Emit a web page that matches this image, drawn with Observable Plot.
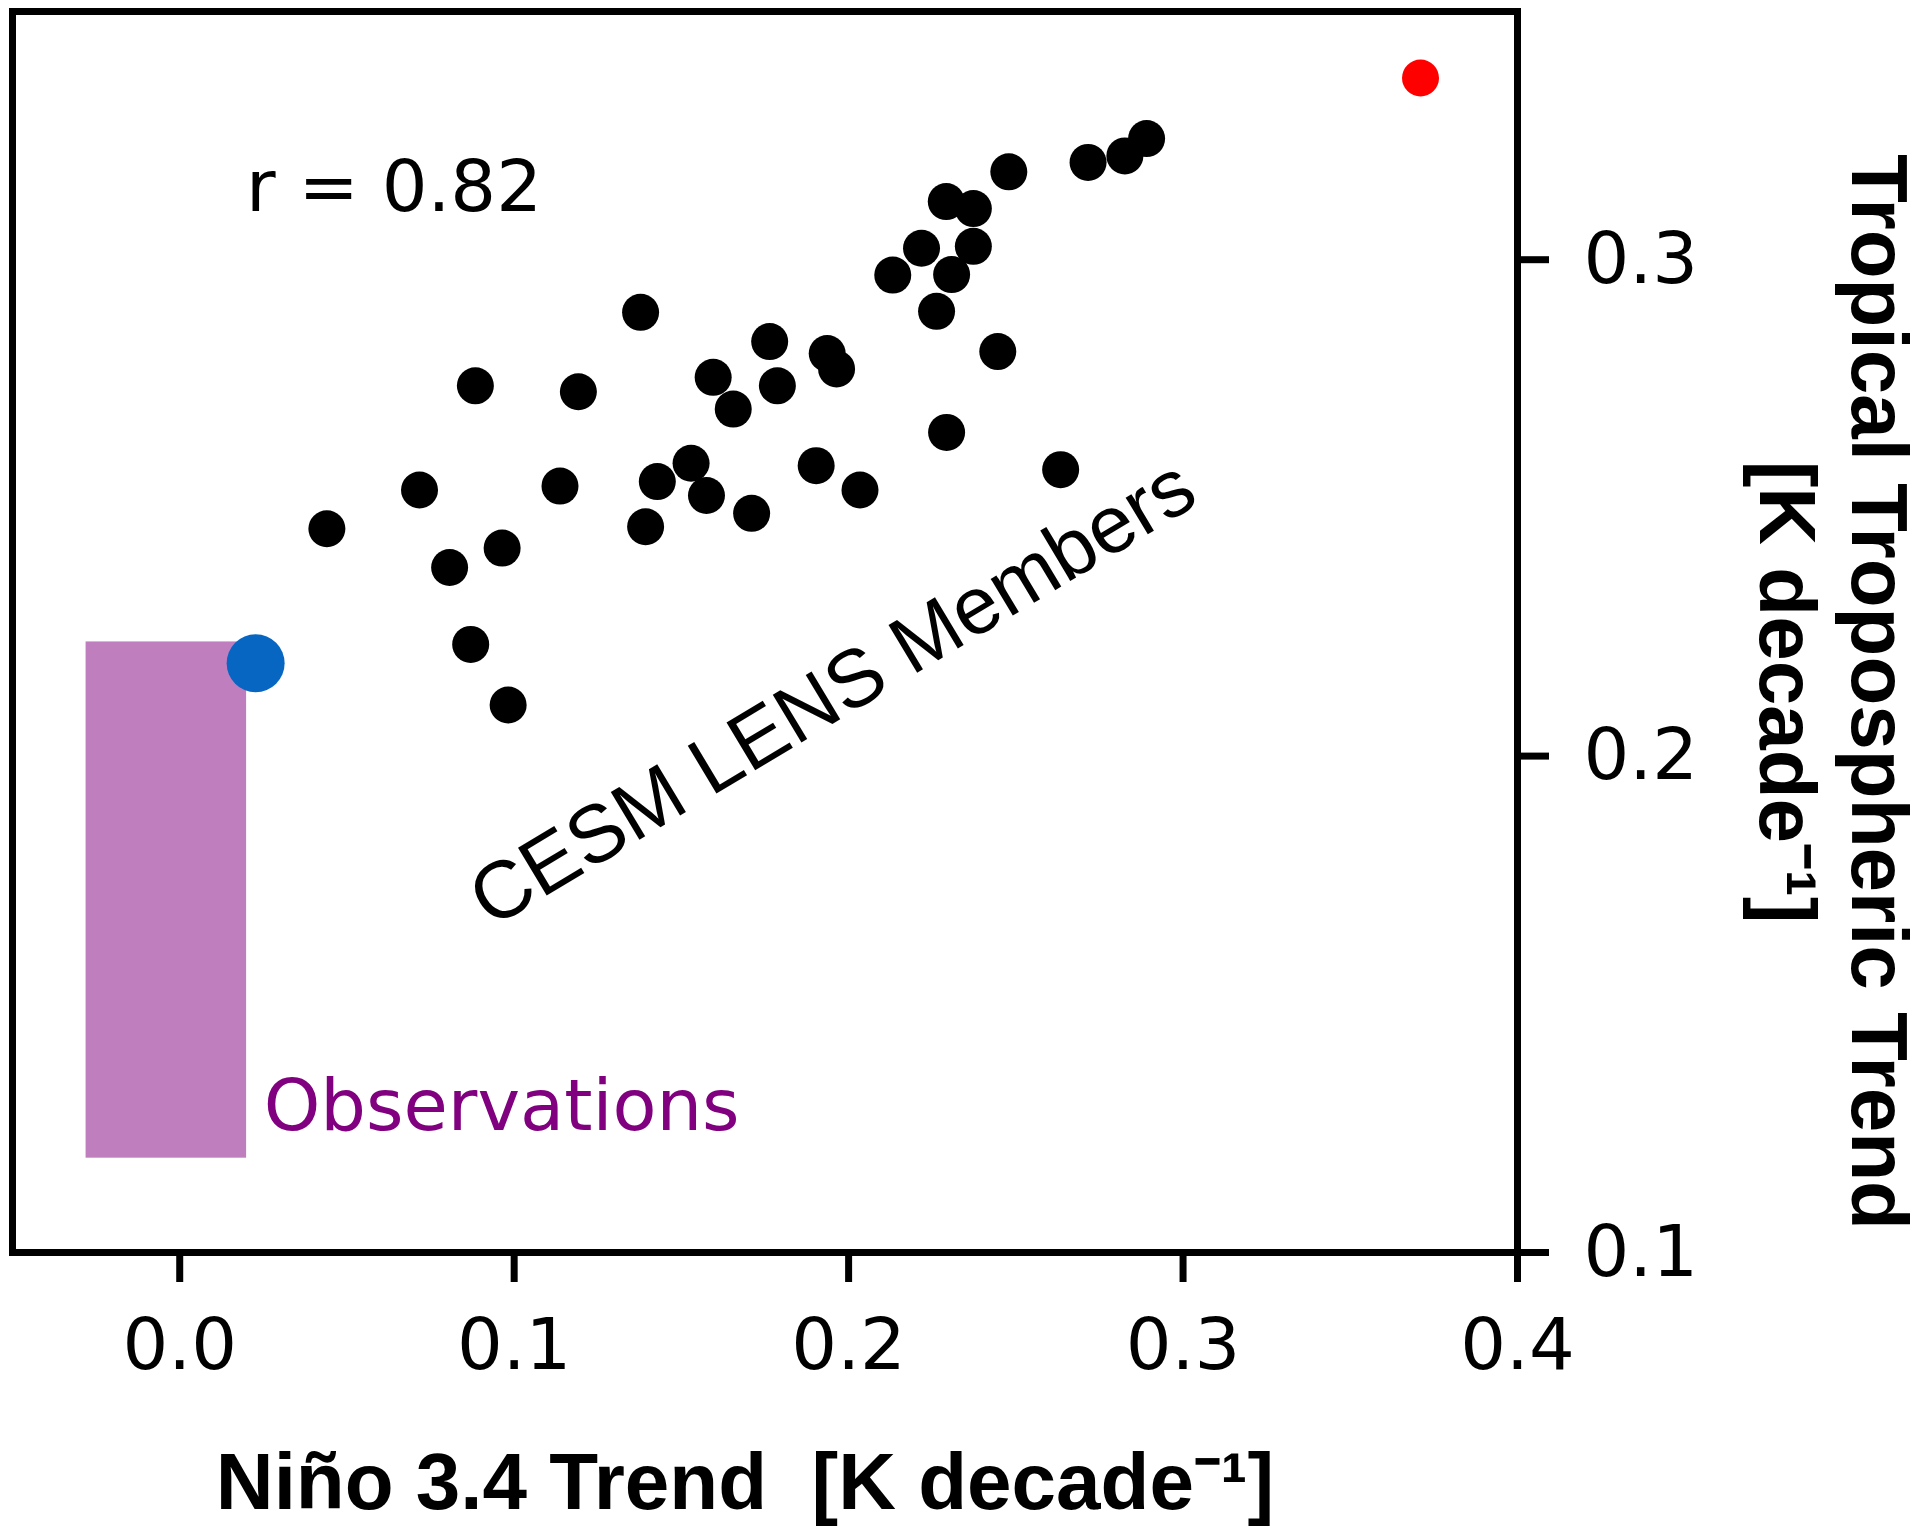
<!DOCTYPE html>
<html>
<head>
<meta charset="utf-8">
<script src="https://cdn.jsdelivr.net/npm/d3@7"></script>
<script src="https://cdn.jsdelivr.net/npm/@observablehq/plot@0.6"></script>
<style>
  html, body { margin: 0; padding: 0; background: #fff; }
  #chart svg { display: block; }
</style>
</head>
<body>
<div id="chart"></div>
<script>
// CESM LENS members: Niño 3.4 trend (x) vs tropical tropospheric trend (y), K/decade
const memberX = [0.2891, 0.2826, 0.2716, 0.2479, 0.2292, 0.2373, 0.2218, 0.2373, 0.2132, 0.2308,
                 0.2263, 0.1378, 0.1764, 0.1936, 0.1964, 0.2446, 0.1595, 0.1787, 0.0884, 0.1192,
                 0.1655, 0.2293, 0.1529, 0.1903, 0.2634, 0.0717, 0.1137, 0.1428, 0.1575, 0.2034,
                 0.1710, 0.0440, 0.1393, 0.0964, 0.0807, 0.0870, 0.0982];
const memberY = [0.3244, 0.3209, 0.3196, 0.3177, 0.3117, 0.3103, 0.3023, 0.3027, 0.2969, 0.2970,
                 0.2896, 0.2894, 0.2835, 0.2811, 0.2780, 0.2815, 0.2763, 0.2746, 0.2746, 0.2734,
                 0.2699, 0.2652, 0.2590, 0.2585, 0.2577, 0.2536, 0.2544, 0.2553, 0.2525, 0.2536,
                 0.2489, 0.2458, 0.2462, 0.2419, 0.2380, 0.2225, 0.2103];
// highlighted points
const redPoint = [{x: 0.3710, y: 0.3366}];
const bluePoint = [{x: 0.0227, y: 0.2187}];
// observational range box
const obsX = [-0.028, 0.020];
const obsY = [0.119, 0.223];
// ticks and labels
const xTicks = [0.0, 0.1, 0.2, 0.3, 0.4];
const yTicks = [0.1, 0.2, 0.3];
const xDomain = [-0.05, 0.4];
const yDomain = [0.1, 0.35];
const rLabel = [{x: 0.0198, y: 0.3099, text: "r = 0.82"}];
const obsLabel = [{x: 0.0251, y: 0.1246, text: "Observations"}];
const cesmLabel = [{x: 0.1952, y: 0.2126, text: "CESM LENS Members"}];
const xTitle = "Niño 3.4 Trend  [K decade⁻¹]";
const yTitle = "Tropical Tropospheric Trend\n[K decade⁻¹]";

const members = memberX.map((x, i) => ({x, y: memberY[i]}));
const obsBox = [{x1: obsX[0], x2: obsX[1], y1: obsY[0], y2: obsY[1]}];

const tickFont = "DejaVu Sans";
const titleFont = "Liberation Sans, Arial, sans-serif";

const chart = Plot.plot({
  width: 1931,
  height: 1527,
  marginLeft: 12,
  marginRight: 414,
  marginTop: 11,
  marginBottom: 275,
  style: {fontFamily: tickFont, fontSize: "72px", background: "white", color: "black"},
  x: {domain: xDomain},
  y: {domain: yDomain},
  marks: [
    Plot.rect(obsBox, {x1: "x1", x2: "x2", y1: "y1", y2: "y2", fill: "#bf7fbf"}),
    Plot.dot(members, {x: "x", y: "y", r: 18.5, fill: "black", stroke: "none"}),
    Plot.dot(bluePoint, {x: "x", y: "y", r: 29, fill: "#0766c2", stroke: "none"}),
    Plot.dot(redPoint, {x: "x", y: "y", r: 18.5, fill: "#ff0000", stroke: "none"}),
    Plot.text(rLabel, {x: "x", y: "y", text: "text", textAnchor: "start", lineAnchor: "bottom",
      fontFamily: tickFont, fontSize: 72, fill: "black"}),
    Plot.text(obsLabel, {x: "x", y: "y", text: "text", textAnchor: "start", lineAnchor: "bottom",
      fontFamily: tickFont, fontSize: 72, fill: "#800080"}),
    Plot.text(cesmLabel, {x: "x", y: "y", text: "text", rotate: -31, textAnchor: "middle", lineAnchor: "middle",
      fontFamily: titleFont, fontSize: 81, fill: "black"}),
    Plot.axisX({ticks: xTicks, tickFormat: d3.format(".1f"), tickSize: 30, tickPadding: 35,
      strokeWidth: 7, fontSize: 72, fontFamily: tickFont, label: null, anchor: "bottom"}),
    Plot.axisY({ticks: yTicks, tickFormat: d3.format(".1f"), tickSize: 31, tickPadding: 35,
      strokeWidth: 7, fontSize: 72, fontFamily: tickFont, label: null, anchor: "right"}),
    Plot.frame({stroke: "black", strokeWidth: 7}),
    Plot.text([xTitle], {frameAnchor: "bottom", text: d => d, dx: -20, dy: 256, lineAnchor: "bottom",
      textAnchor: "middle", fontFamily: titleFont, fontWeight: "bold", fontSize: 80, fill: "black"}),
    Plot.text([yTitle], {frameAnchor: "right", text: d => d, rotate: 90, dx: 400, dy: 60, lineAnchor: "top",
      lineHeight: 1.15, textAnchor: "middle", fontFamily: titleFont, fontWeight: "bold", fontSize: 80, fill: "black"})
  ]
});
document.getElementById("chart").appendChild(chart);
</script>
</body>
</html>
